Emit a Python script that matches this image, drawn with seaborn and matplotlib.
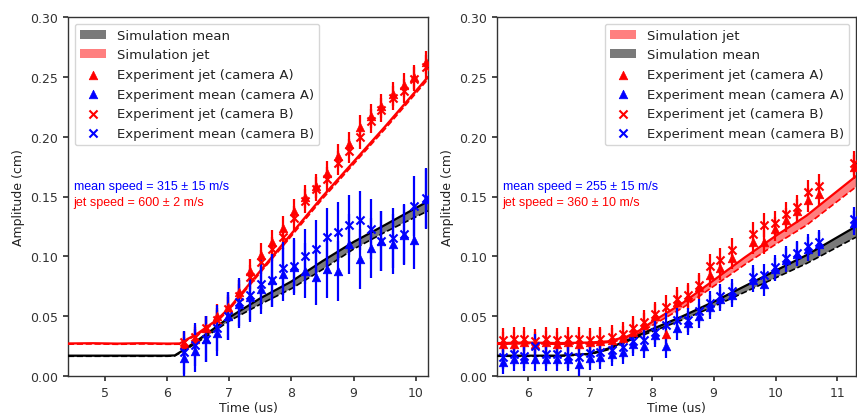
import numpy as np
import matplotlib
matplotlib.use("Agg")
import matplotlib.pyplot as plt
import seaborn as sns

# ---- left panel data ----
t_left = [6.27, 6.45, 6.63, 6.80, 6.98, 7.16, 7.33, 7.51, 7.69, 7.86, 8.04, 8.22,
          8.39, 8.57, 8.75, 8.92, 9.10, 9.28, 9.45, 9.63, 9.81, 9.98, 10.16]
jetA_left = [0.027, 0.031, 0.040, 0.050, 0.058, 0.070, 0.088, 0.101, 0.112, 0.124, 0.138, 0.150,
             0.159, 0.170, 0.184, 0.194, 0.208, 0.217, 0.226, 0.236, 0.243, 0.250, 0.262]
jetB_left = [0.028, 0.033, 0.040, 0.047, 0.056, 0.067, 0.083, 0.095, 0.106, 0.116, 0.132, 0.146,
             0.156, 0.165, 0.178, 0.188, 0.200, 0.213, 0.222, 0.232, 0.238, 0.248, 0.258]
meanA_left = [0.015, 0.021, 0.031, 0.036, 0.050, 0.060, 0.066, 0.073, 0.080, 0.085, 0.091, 0.088,
              0.083, 0.089, 0.088, 0.110, 0.098, 0.107, 0.113, 0.110, 0.118, 0.114, 0.148]
meanB_left = [0.020, 0.026, 0.031, 0.040, 0.050, 0.062, 0.068, 0.077, 0.080, 0.090, 0.092, 0.100,
              0.106, 0.116, 0.120, 0.126, 0.130, 0.123, 0.113, 0.115, 0.119, 0.142, 0.149]
jet_err_left = 0.010
mean_err_left = [0.018, 0.018, 0.019, 0.019, 0.020, 0.020, 0.021, 0.021, 0.022, 0.022, 0.023, 0.023,
                 0.024, 0.024, 0.025, 0.025, 0.025, 0.025, 0.025, 0.025, 0.025, 0.025, 0.025]

sim_t_jet_left = [4.4, 4.8, 5.2, 5.6, 6.0, 6.2, 6.5, 6.8, 7.0, 7.5, 8.0, 8.5, 9.0, 9.5, 10.2]
sim_jet_up_left = [0.0272, 0.0274, 0.0271, 0.0274, 0.0271, 0.0272, 0.036, 0.047, 0.057, 0.088,
                   0.119, 0.150, 0.179, 0.208, 0.250]
sim_jet_lo_left = [0.0266, 0.0268, 0.0265, 0.0268, 0.0265, 0.0266, 0.035, 0.0455, 0.0555, 0.0865,
                   0.117, 0.148, 0.177, 0.206, 0.248]
sim_t_mean_left = [4.4, 5.0, 5.5, 6.0, 6.12, 6.3, 6.6, 7.0, 7.5, 8.0, 8.5, 9.0, 9.5, 10.2]
sim_mean_up_left = [0.017, 0.017, 0.017, 0.017, 0.0172, 0.023, 0.034, 0.049, 0.065, 0.079, 0.096,
                    0.112, 0.126, 0.146]
sim_mean_lo_left = [0.0165, 0.0165, 0.0165, 0.0165, 0.0168, 0.022, 0.032, 0.046, 0.060, 0.073,
                    0.089, 0.106, 0.120, 0.138]

# ---- right panel data ----
t_right = [5.59, 5.77, 5.94, 6.12, 6.29, 6.47, 6.65, 6.82, 7.00, 7.17, 7.35, 7.53, 7.70, 7.88, 8.05,
           8.23, 8.41, 8.58, 8.76, 8.94, 9.11, 9.29, 9.64, 9.82, 9.99, 10.17, 10.35, 10.52, 10.70, 11.26]
jetA_right = [0.027, 0.027, 0.028, 0.027, 0.028, 0.027, 0.028, 0.027, 0.028, 0.029, 0.030, 0.032,
              0.037, 0.043, 0.050, 0.035, 0.062, 0.066, 0.074, 0.084, 0.090, 0.099, 0.112, 0.112,
              0.123, 0.130, 0.138, 0.147, 0.152, 0.175]
jetB_right = [0.030, 0.031, 0.031, 0.029, 0.031, 0.030, 0.031, 0.031, 0.030, 0.031, 0.033, 0.035,
              0.040, 0.045, 0.052, 0.058, 0.064, 0.068, 0.076, 0.092, 0.097, 0.105, 0.119, 0.126,
              0.128, 0.135, 0.141, 0.154, 0.159, 0.178]
meanA_right = [0.012, 0.014, 0.014, 0.014, 0.014, 0.014, 0.014, 0.010, 0.015, 0.016, 0.018, 0.020,
               0.027, 0.025, 0.034, 0.025, 0.040, 0.044, 0.050, 0.058, 0.064, 0.068, 0.080, 0.077,
               0.089, 0.097, 0.102, 0.106, 0.110, 0.128]
meanB_right = [0.016, 0.018, 0.017, 0.025, 0.018, 0.018, 0.017, 0.016, 0.019, 0.020, 0.022, 0.024,
               0.029, 0.030, 0.037, 0.043, 0.047, 0.047, 0.054, 0.061, 0.067, 0.071, 0.083, 0.084,
               0.091, 0.099, 0.103, 0.109, 0.112, 0.131]
jet_err_right = 0.010
mean_err_right = 0.010

sim_t_jet_right = [5.5, 6.0, 6.5, 7.0, 7.3, 7.6, 7.8, 8.0, 8.5, 9.0, 9.5, 10.0, 10.5, 11.3]
sim_jet_up_right = [0.0275, 0.028, 0.0275, 0.028, 0.029, 0.033, 0.038, 0.045, 0.061, 0.080, 0.099,
                    0.117, 0.134, 0.167]
sim_jet_lo_right = [0.0265, 0.027, 0.0265, 0.027, 0.028, 0.031, 0.036, 0.042, 0.057, 0.075, 0.093,
                    0.110, 0.126, 0.158]
sim_t_mean_right = [5.5, 6.0, 6.5, 7.0, 7.3, 7.7, 8.0, 8.5, 9.0, 9.5, 10.0, 10.5, 11.3]
sim_mean_up_right = [0.017, 0.017, 0.017, 0.0185, 0.023, 0.032, 0.039, 0.050, 0.062, 0.075, 0.088,
                     0.101, 0.125]
sim_mean_lo_right = [0.0165, 0.0165, 0.0165, 0.018, 0.022, 0.031, 0.037, 0.047, 0.058, 0.070, 0.082,
                     0.094, 0.116]

sns.set_theme(style="ticks")
plt.rcParams["font.family"] = ["DejaVu Sans"]
plt.rcParams.update({"axes.edgecolor": "#333333", "xtick.color": "#333333", "ytick.color": "#333333",
                     "axes.labelcolor": "#222222", "text.color": "#222222", "axes.linewidth": 1.0})

fig = plt.figure(figsize=(8.57, 4.14), dpi=100)
ax1 = fig.add_axes([68 / 857, 37 / 414, 360 / 857, 359 / 414])
ax2 = fig.add_axes([497 / 857, 37 / 414, 359 / 857, 359 / 414])


def sim_band(ax, t, up, lo, color, fill, label):
    h = ax.fill_between(t, lo, up, facecolor=fill, edgecolor="none", label=label, zorder=2)
    sns.lineplot(x=t, y=up, color=color, lw=1.6, ax=ax, zorder=3)
    sns.lineplot(x=t, y=lo, color=color, lw=1.2, ls="--", ax=ax, zorder=3)
    return h


def experiment(ax, t, v, err, color, marker, label):
    ax.errorbar(t, v, yerr=err, fmt="none", ecolor=color, elinewidth=1.6, capsize=0, zorder=4)
    if marker == "^":
        sns.scatterplot(x=t, y=v, marker="^", color=color, edgecolor=color, linewidth=0.5,
                        s=38, ax=ax, zorder=5, label=label)
    else:
        sns.scatterplot(x=t, y=v, marker="x", color=color, linewidth=1.5, s=34, ax=ax,
                        zorder=5, label=label)


# left panel
sim_band(ax1, sim_t_mean_left, sim_mean_up_left, sim_mean_lo_left, "black", "#7a7a7a",
         "Simulation mean")
sim_band(ax1, sim_t_jet_left, sim_jet_up_left, sim_jet_lo_left, "red", "#ff7f7f",
         "Simulation jet")
experiment(ax1, t_left, jetA_left, jet_err_left, "red", "^", "Experiment jet (camera A)")
experiment(ax1, t_left, meanA_left, mean_err_left, "blue", "^", "Experiment mean (camera A)")
experiment(ax1, t_left, jetB_left, jet_err_left, "red", "x", "Experiment jet (camera B)")
experiment(ax1, t_left, meanB_left, mean_err_left, "blue", "x", "Experiment mean (camera B)")
handles, labels = ax1.get_legend_handles_labels()
order = ["Simulation mean", "Simulation jet", "Experiment jet (camera A)",
         "Experiment mean (camera A)", "Experiment jet (camera B)", "Experiment mean (camera B)"]
hd = dict(zip(labels, handles))
ax1.legend([hd[k] for k in order], order, loc="upper left", fontsize=9.5, framealpha=0.8,
           edgecolor="#cccccc", handlelength=2.0)
ax1.set_xlim(4.4, 10.2)

# right panel
sim_band(ax2, sim_t_jet_right, sim_jet_up_right, sim_jet_lo_right, "red", "#ff7f7f",
         "Simulation jet")
sim_band(ax2, sim_t_mean_right, sim_mean_up_right, sim_mean_lo_right, "black", "#7a7a7a",
         "Simulation mean")
experiment(ax2, t_right, jetA_right, jet_err_right, "red", "^", "Experiment jet (camera A)")
experiment(ax2, t_right, meanA_right, mean_err_right, "blue", "^", "Experiment mean (camera A)")
experiment(ax2, t_right, jetB_right, jet_err_right, "red", "x", "Experiment jet (camera B)")
experiment(ax2, t_right, meanB_right, mean_err_right, "blue", "x", "Experiment mean (camera B)")
handles, labels = ax2.get_legend_handles_labels()
order2 = ["Simulation jet", "Simulation mean", "Experiment jet (camera A)",
          "Experiment mean (camera A)", "Experiment jet (camera B)", "Experiment mean (camera B)"]
hd = dict(zip(labels, handles))
ax2.legend([hd[k] for k in order2], order2, loc="upper right", fontsize=9.5, framealpha=0.8,
           edgecolor="#cccccc", handlelength=2.0)
ax2.set_xlim(5.5, 11.3)

speed_texts = [(ax1, "mean speed = 315 ± 15 m/s", "jet speed = 600 ± 2 m/s"),
               (ax2, "mean speed = 255 ± 15 m/s", "jet speed = 360 ± 10 m/s")]
for ax, mtxt, jtxt in speed_texts:
    ax.set_ylim(0, 0.30)
    ax.set_yticks([0.0, 0.05, 0.10, 0.15, 0.20, 0.25, 0.30])
    ax.set_yticklabels(["0.00", "0.05", "0.10", "0.15", "0.20", "0.25", "0.30"])
    ax.tick_params(labelsize=9, length=3.5)
    ax.set_xlabel("Time (us)", fontsize=9, labelpad=2)
    ax.set_ylabel("Amplitude (cm)", fontsize=9)
    for s in ["top", "right"]:
        ax.spines[s].set_visible(True)
    ax.text(0.016, 0.529, mtxt, color="blue", fontsize=9, family="Liberation Sans",
            va="center", transform=ax.transAxes)
    ax.text(0.016, 0.485, jtxt, color="red", fontsize=9, family="Liberation Sans",
            va="center", transform=ax.transAxes)

fig.savefig("out.png", dpi=100)
